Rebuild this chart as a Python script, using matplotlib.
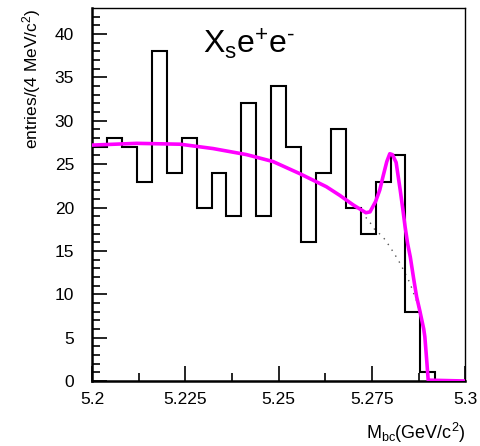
import numpy as np
import matplotlib
matplotlib.use("Agg")
import matplotlib.pyplot as plt

plt.rcParams['font.family'] = ['Liberation Sans', 'DejaVu Sans']
plt.rcParams['mathtext.fontset'] = 'custom'
plt.rcParams['mathtext.rm'] = 'Liberation Sans'
plt.rcParams['mathtext.it'] = 'Liberation Sans'

# histogram: 25 bins of 4 MeV from 5.2 to 5.3
bin_lo = 5.2
bin_hi = 5.3
counts = [27, 28, 27, 23, 38, 24, 28, 20, 24, 19, 32, 19, 34, 27, 16,
          24, 29, 20, 17, 23, 26, 8, 1, 0, 0]

# fit curve (ARGUS + gaussian)
fit_x = [5.2000, 5.2120, 5.2236, 5.2324, 5.2414, 5.2485, 5.2557, 5.2628,
         5.2664, 5.2700, 5.2734, 5.2745, 5.2760, 5.2771, 5.2780, 5.2790,
         5.2798, 5.2805, 5.2815, 5.2826, 5.2833, 5.2839, 5.2846, 5.2853,
         5.2862, 5.2870, 5.2878, 5.2884, 5.2889, 5.2892, 5.2897, 5.2901,
         5.3000]
fit_y = [27.2, 27.4, 27.3, 26.8, 26.1, 25.3, 23.9, 22.4,
         21.4, 20.3, 19.4, 19.5, 20.7, 22.0, 23.6, 25.3,
         26.2, 26.1, 25.2, 22.0, 19.8, 17.8, 15.8, 14.3,
         11.8, 9.7, 8.2, 7.0, 6.0, 5.1, 2.4, 0.1,
         0.0]

# background only (dotted)
bg_x = [5.2000, 5.2120, 5.2236, 5.2324, 5.2414, 5.2485, 5.2557, 5.2628,
        5.2664, 5.2700, 5.2730, 5.2740, 5.2757, 5.2780, 5.2798, 5.2820,
        5.2830, 5.2852, 5.2862, 5.2872, 5.2884, 5.2892, 5.2897, 5.2901]
bg_y = [27.2, 27.4, 27.3, 26.8, 26.1, 25.3, 23.9, 22.4,
        21.4, 20.2, 19.0, 18.6, 17.5, 16.6, 15.5, 14.0,
        13.2, 11.3, 10.1, 9.0, 7.0, 5.1, 2.4, 0.0]

edges = np.linspace(bin_lo, bin_hi, len(counts) + 1)

fig = plt.figure(figsize=(4.8, 4.46), dpi=100)
ax = fig.add_axes([0.192, 0.1457, 0.777, 0.8363])

ax.plot(bg_x, bg_y, color='#555555', lw=1.0, ls=(0, (1, 4)), zorder=2)
ax.stairs(counts, edges, baseline=0, color='black', lw=1.5, zorder=3)
ax.plot(fit_x, fit_y, color='#ff00ff', lw=2.6, solid_joinstyle='round', zorder=4)

ax.set_xlim(bin_lo, bin_hi)
ax.set_ylim(0, 43)

ax.set_xticks([5.2, 5.225, 5.25, 5.275, 5.3])
ax.set_xticklabels(['5.2', '5.225', '5.25', '5.275', '5.3'])
ax.set_xticks(np.arange(5.2, 5.3001, 0.0125), minor=True)
ax.set_yticks(range(0, 41, 5))
ax.set_yticks(range(0, 43), minor=True)

ax.tick_params(which='major', direction='in', length=11, width=1.2,
               labelsize=12.5, top=False, right=False)
ax.tick_params(which='minor', direction='in', length=6, width=1.2,
               top=False, right=False)
ax.tick_params(axis='x', pad=8)
ax.tick_params(axis='y', pad=13)

for side in ['left', 'bottom']:
    ax.spines[side].set_linewidth(1.8)
for side in ['top', 'right']:
    ax.spines[side].set_linewidth(1.0)

ax.set_ylabel(r'entries/(4 MeV/c$^\mathregular{2}$)', fontsize=12.5, loc='top', labelpad=8)
ax.set_xlabel(r'M$_\mathregular{bc}$(GeV/c$^\mathregular{2}$)', fontsize=13, loc='right', labelpad=10)

ax.text(0.298, 0.879, 'X$_\\mathregular{s}$e$^\\mathregular{+}$e$^\\mathregular{\u2010}$',
        transform=ax.transAxes, fontsize=23, va='baseline', ha='left')

fig.savefig('out.png', dpi=100)
